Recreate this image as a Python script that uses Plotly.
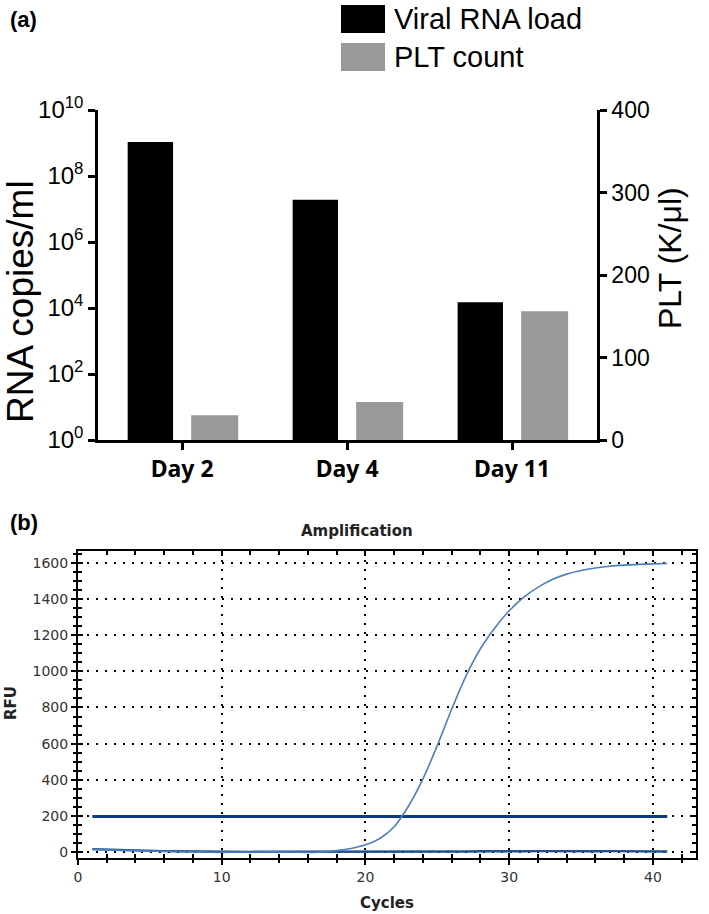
import plotly.graph_objects as go

# ---------------- Panel (a) data ----------------
days = ["Day 2", "Day 4", "Day 11"]
rna_load = [1.07e9, 1.9e7, 1.5e4]          # copies/ml (log axis)
plt_count = [30, 46, 156]                  # K/ul
rna_name = "Viral RNA load"
plt_name = "PLT count"
log_tickvals = [1, 1e2, 1e4, 1e6, 1e8, 1e10]
log_ticktext = ["10<sup>0</sup>", "10<sup>2</sup>", "10<sup>4</sup>",
                "10<sup>6</sup>", "10<sup>8</sup>", "10<sup>10</sup>"]
plt_tickvals = [0, 100, 200, 300, 400]

# ---------------- Panel (b) data ----------------
cycles = list(range(1, 42))
rfu_sample = [15, 12, 9, 7, 5, 4, 3, 2, 0, -2, -1, 0, 1, 1, 0, -2, 1, 8, 20, 40,
              75, 140, 255, 405, 590, 790, 975, 1125, 1240, 1335, 1410, 1465, 1508,
              1538, 1558, 1572, 1582, 1588, 1592, 1595, 1597]
rfu_negative = [16, 13, 10, 8, 6, 5, 4, 3, 1, -1, 0, 1, 2, 2, 1, 0, -1, 0, 1, 2,
                2, 2, 3, 3, 2, 2, 3, 4, 3, 3, 4, 5, 4, 3, 3, 4, 5, 5, 4, 4, 3]
threshold_cycles = [1, 41]
threshold_rfu = [196, 196]
rfu_tickvals = [0, 200, 400, 600, 800, 1000, 1200, 1400, 1600]
cycle_tickvals = [0, 10, 20, 30, 40]

W, H = 709, 914
def px(x):
    return x / W
def py(y):
    return 1 - y / H

fig = go.Figure()

# bars
fig.add_trace(go.Bar(x=days, y=rna_load, name=rna_name, marker_color="#000000",
                     marker_line_width=0, width=0.275, offset=-0.33,
                     xaxis="x", yaxis="y", showlegend=False))
fig.add_trace(go.Bar(x=days, y=plt_count, name=plt_name, marker_color="#999999",
                     marker_line_width=0, width=0.285, offset=0.055,
                     xaxis="x", yaxis="y2", showlegend=False))

# amplification
fig.add_trace(go.Scatter(x=cycles, y=rfu_negative, mode="lines",
                         line=dict(color="#1f4f8f", width=2.4),
                         xaxis="x2", yaxis="y3", showlegend=False))
fig.add_trace(go.Scatter(x=threshold_cycles, y=threshold_rfu, mode="lines",
                         line=dict(color="#0b3c7c", width=3),
                         xaxis="x2", yaxis="y3", showlegend=False))
fig.add_trace(go.Scatter(x=cycles, y=rfu_sample, mode="lines",
                         line=dict(color="#4d7fbd", width=1.6, shape="spline"),
                         xaxis="x2", yaxis="y3", showlegend=False))
# dummy trace for overlay axes (inside ticks)
fig.add_trace(go.Scatter(x=[], y=[], xaxis="x3", yaxis="y4", showlegend=False,
                         hoverinfo="skip"))

afont = dict(family="Liberation Sans, Arial, sans-serif", color="#000000")
bfont = dict(family="DejaVu Sans, sans-serif", color="#333333", size=14)
btitle = dict(family="DejaVu Sans, sans-serif", color="#222222", size=15, weight="bold")

xa_dom = [px(98), px(597)]
ya_dom = [py(440), py(110)]
xb_dom = [px(78), px(696)]
yb_dom = [py(858), py(551)]

common_a = dict(showline=True, linecolor="black", linewidth=2.5,
                ticks="outside", ticklen=7, tickwidth=2.5, tickcolor="black",
                showgrid=False, zeroline=False, automargin=False)

fig.update_layout(
    width=W, height=H,
    margin=dict(l=0, r=0, t=0, b=0, pad=0),
    paper_bgcolor="white", plot_bgcolor="white",
    barmode="overlay",
    xaxis=dict(common_a, domain=xa_dom, anchor="y", type="category", range=[-0.51, 2.515],
               tickfont=dict(family="Noto Sans, Liberation Sans, sans-serif",
                             size=23, color="black", weight="bold")),
    yaxis=dict(common_a, domain=ya_dom, anchor="x", type="log", range=[0, 10],
               tickvals=log_tickvals, ticktext=log_ticktext,
               tickfont=dict(afont, size=24)),
    yaxis2=dict(common_a, overlaying="y", side="right", anchor="x", range=[0, 400],
                tickvals=plt_tickvals, tickfont=dict(afont, size=23)),
    xaxis2=dict(domain=xb_dom, anchor="y3", range=[0, 43], automargin=False,
                tickvals=cycle_tickvals,
                showline=True, linecolor="black", linewidth=2, mirror=True,
                ticks="outside", ticklen=5, tickwidth=2, tickcolor="black",
                minor=dict(dtick=2, tick0=0, ticks="outside", ticklen=3,
                           tickwidth=2, tickcolor="black", showgrid=False),
                showgrid=True, gridcolor="black", gridwidth=1.5, griddash="2px,7px",
                zeroline=False, tickfont=bfont),
    yaxis3=dict(domain=yb_dom, anchor="x2", range=[-33, 1666], automargin=False,
                tickvals=rfu_tickvals,
                showline=True, linecolor="black", linewidth=2, mirror=True,
                ticks="outside", ticklen=5, tickwidth=2, tickcolor="black",
                minor=dict(dtick=50, tick0=0, ticks="outside", ticklen=3,
                           tickwidth=2, tickcolor="black", showgrid=False),
                showgrid=True, gridcolor="black", gridwidth=1.5, griddash="2px,7px",
                zeroline=False, tickfont=bfont),
    xaxis3=dict(overlaying="x2", anchor="y4", range=[0, 43], tickvals=cycle_tickvals,
                showline=False, mirror="allticks", showticklabels=False, automargin=False,
                ticks="inside", ticklen=5, tickwidth=2, tickcolor="black",
                minor=dict(dtick=2, tick0=0, ticks="inside", ticklen=4,
                           tickwidth=2, tickcolor="black"),
                showgrid=False, zeroline=False),
    yaxis4=dict(overlaying="y3", anchor="x3", range=[-33, 1666], tickvals=rfu_tickvals,
                showline=False, mirror="allticks", showticklabels=False, automargin=False,
                ticks="inside", ticklen=5, tickwidth=2, tickcolor="black",
                minor=dict(dtick=50, tick0=0, ticks="inside", ticklen=4,
                           tickwidth=2, tickcolor="black"),
                showgrid=False, zeroline=False),
)

# legend drawn as boxes + labels
legend_items = [(rna_name, "#000000", 19), (plt_name, "#999999", 57)]
shapes = []
annotations = []
for name, color, yc in legend_items:
    shapes.append(dict(type="rect", xref="paper", yref="paper",
                       x0=px(341), x1=px(385), y0=py(yc + 14), y1=py(yc - 14),
                       fillcolor=color, line=dict(width=0)))
    annotations.append(dict(text=name, xref="paper", yref="paper", x=px(392), y=py(yc),
                            xanchor="left", yanchor="middle", showarrow=False,
                            font=dict(afont, size=29)))

def ann(text, x, y, font, angle=0, xanchor="center"):
    annotations.append(dict(text=text, xref="paper", yref="paper", x=px(x), y=py(y),
                            xanchor=xanchor, yanchor="middle", showarrow=False,
                            textangle=angle, font=font))

ann("<b>(a)</b>", 8, 19, dict(afont, size=22), xanchor="left")
ann("<b>(b)</b>", 8, 522, dict(afont, size=22), xanchor="left")
ann("RNA copies/ml", 20, 302, dict(afont, size=37), angle=-90)
ann("PLT (K/\u03bcl)", 670, 258, dict(afont, size=32), angle=-90)
ann("Amplification", 357, 531, btitle)
ann("Cycles", 387, 903, btitle)
ann("RFU", 11, 703, btitle, angle=-90)

fig.update_layout(shapes=shapes, annotations=annotations)
fig.write_html("out.html", config={"displayModeBar": False},
               post_script="document.body.style.margin='0';document.body.style.padding='0';")
